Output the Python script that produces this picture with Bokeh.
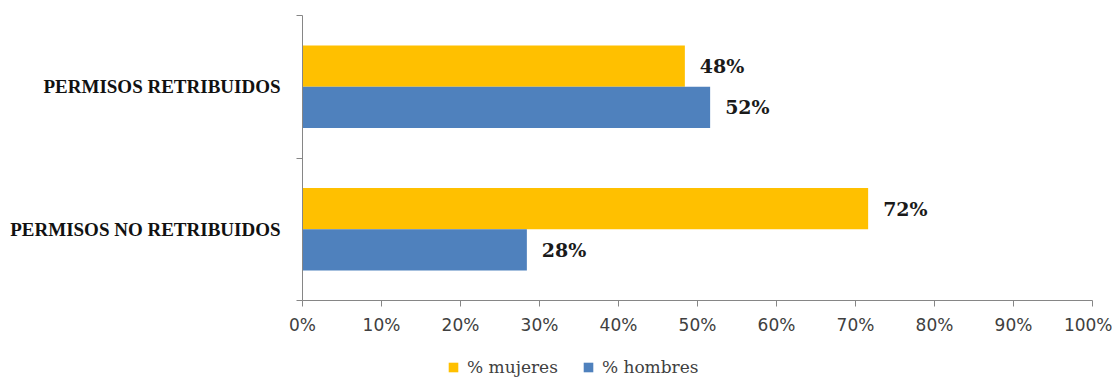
from bokeh.plotting import figure
from bokeh.models import (Range1d, LinearAxis, FixedTicker, NumeralTickFormatter,
                          ColumnDataSource, Legend, LegendItem)
from bokeh.layouts import column
from bokeh.core.properties import value
from bokeh.embed import file_html
from bokeh.resources import INLINE

categories = ["PERMISOS NO RETRIBUIDOS", "PERMISOS RETRIBUIDOS"]
mujeres = [0.716, 0.484]
hombres = [0.284, 0.516]
series_names = ["% mujeres", "% hombres"]
x_ticks = [0.0, 0.1, 0.2, 0.3, 0.4, 0.5, 0.6, 0.7, 0.8, 0.9, 1.0]

YELLOW = "#FFC000"
BLUE = "#4F81BD"
AXIS = "#868686"
BAR_H = 0.29

centers = [i + 0.5 for i in range(len(categories))]
src = ColumnDataSource(dict(
    yc=centers, muj=mujeres, hom=hombres,
    y_muj=[c + BAR_H / 2 for c in centers],
    y_hom=[c - BAR_H / 2 for c in centers],
    muj_lbl=[f"{round(v*100)}%" for v in mujeres],
    hom_lbl=[f"{round(v*100)}%" for v in hombres],
))

p = figure(width=1112, height=342, output_backend="svg", toolbar_location=None,
           y_range=Range1d(0, len(categories)), x_range=Range1d(0, 1),
           min_border_left=302, min_border_right=20, min_border_top=15, min_border_bottom=42,
           y_axis_location=None)
p.outline_line_color = None
p.xgrid.grid_line_color = None
p.ygrid.grid_line_color = None
p.background_fill_color = "white"

r1 = p.hbar(y="y_muj", right="muj", left=0, height=BAR_H,
            source=src, fill_color=YELLOW, line_color=None)
r2 = p.hbar(y="y_hom", right="hom", left=0, height=BAR_H,
            source=src, fill_color=BLUE, line_color=None)

lbl_font = value("DejaVu Serif")
p.text(x="muj", y="y_muj", text="muj_lbl", source=src,
       x_offset=15, text_align="left", text_baseline="middle",
       text_font=lbl_font, text_font_style="bold", text_font_size="19px", text_color="#1a1a1a")
p.text(x="hom", y="y_hom", text="hom_lbl", source=src,
       x_offset=15, text_align="left", text_baseline="middle",
       text_font=lbl_font, text_font_style="bold", text_font_size="19px", text_color="#1a1a1a")

# x axis
xa = p.xaxis[0]
xa.ticker = FixedTicker(ticks=x_ticks)
xa.formatter = NumeralTickFormatter(format="0%")
xa.axis_line_color = AXIS
xa.major_tick_line_color = AXIS
xa.major_tick_out = 6
xa.major_tick_in = 0
xa.minor_tick_line_color = None
xa.major_label_text_font = "DejaVu Sans"
xa.major_label_text_font_size = "17px"
xa.major_label_text_color = "#404040"
xa.major_label_standoff = 8

# y axis with boundary ticks (nearest frame)
ya = LinearAxis(ticker=FixedTicker(ticks=list(range(len(categories) + 1))),
                major_label_text_font_size="0px", major_label_standoff=0,
                axis_line_color=AXIS, major_tick_line_color=AXIS,
                major_tick_out=6, major_tick_in=0, minor_tick_line_color=None)
p.add_layout(ya, "left")

# category labels axis
ca = LinearAxis(ticker=FixedTicker(ticks=centers),
                major_label_overrides={c: n for c, n in zip(centers, categories)},
                axis_line_color=None, major_tick_line_color=None,
                minor_tick_line_color=None,
                major_label_text_font="Liberation Serif",
                major_label_text_font_style="bold",
                major_label_text_font_size="19px",
                major_label_text_color="#111111",
                major_label_standoff=10)
p.add_layout(ca, "left")

# legend strip (its frame is aligned with the main frame by the column layout)
p2 = figure(width=1112, height=35, output_backend="svg", toolbar_location=None,
            x_range=Range1d(0, 1), y_range=Range1d(10, 11),
            x_axis_location=None, y_axis_location=None, min_border=0)
p2.outline_line_color = None
p2.xgrid.grid_line_color = None
p2.ygrid.grid_line_color = None
e1 = p2.hbar(y="y_muj", right="muj", left=0, height=BAR_H, source=src,
             fill_color=YELLOW, line_color=None)
e2 = p2.hbar(y="y_hom", right="hom", left=0, height=BAR_H, source=src,
             fill_color=BLUE, line_color=None)
legend = Legend(items=[LegendItem(label=series_names[0], renderers=[e1]),
                       LegendItem(label=series_names[1], renderers=[e2])],
                orientation="horizontal", location=(145, 0),
                glyph_width=12, glyph_height=12, label_standoff=8, spacing=24,
                padding=0, margin=0, border_line_color=None,
                background_fill_alpha=0,
                label_text_font="DejaVu Serif", label_text_font_size="17px",
                label_text_color="#404040", label_height=12)
p2.add_layout(legend, "center")

layout = column(p, p2, spacing=0)
open("out.html", "w").write(file_html(layout, INLINE))
